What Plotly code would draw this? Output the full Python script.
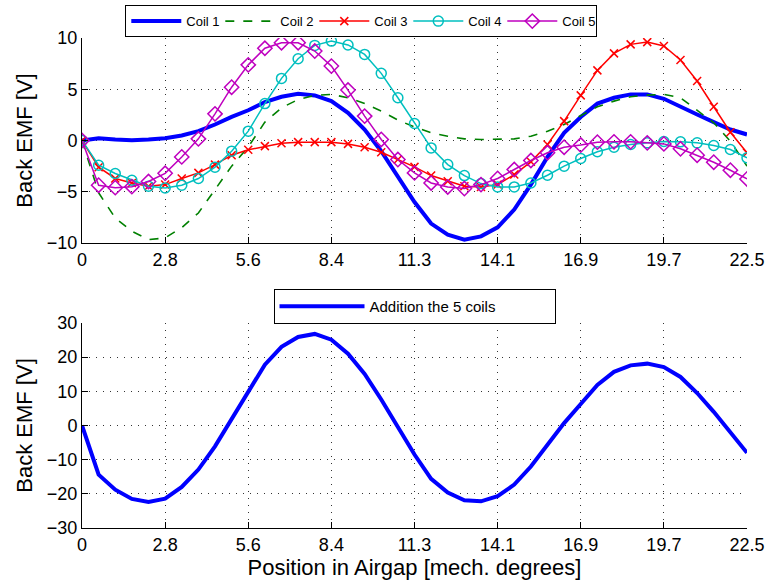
import plotly.graph_objects as go
from plotly.subplots import make_subplots

# ---- data ----
position = [0, 0.5625, 1.125, 1.6875, 2.25, 2.8125, 3.375, 3.9375, 4.5, 5.0625,
            5.625, 6.1875, 6.75, 7.3125, 7.875, 8.4375, 9.0, 9.5625, 10.125, 10.6875,
            11.25, 11.8125, 12.375, 12.9375, 13.5, 14.0625, 14.625, 15.1875, 15.75, 16.3125,
            16.875, 17.4375, 18.0, 18.5625, 19.125, 19.6875, 20.25, 20.8125, 21.375, 21.9375,
            22.5]

coil1 = [0, 0.23, 0.10, 0.03, 0.10, 0.23, 0.49, 0.91, 1.56, 2.31,
         2.95, 3.75, 4.27, 4.56, 4.40, 3.84, 2.70, 1.07, -1.04, -3.49,
         -6.0, -8.10, -9.19, -9.67, -9.35, -8.47, -6.74, -4.30, -1.60, 0.75,
         2.30, 3.60, 4.17, 4.50, 4.50, 4.07, 3.35, 2.54, 1.79, 1.07,
         0.59]
coil2 = [0, -5.1, -7.56, -8.86, -9.67, -9.5, -8.5, -7.07, -4.79, -2.5,
         -0.63, 1.79, 3.19, 4.0, 4.4, 4.5, 4.17, 3.62, 2.87, 1.99,
         1.32, 0.75, 0.42, 0.16, 0.10, 0.10, 0.16, 0.42, 0.91, 1.56,
         2.46, 3.29, 3.84, 4.27, 4.43, 4.5, 4.17, 2.96, 1.73, -0.07,
         -2.5]
coil3 = [0, -2.6, -3.7, -4.14, -4.46, -4.3, -3.71, -3.16, -2.35, -1.43,
         -0.91, -0.55, -0.26, -0.16, -0.16, -0.16, -0.33, -0.65, -1.14, -1.86,
         -2.57, -3.42, -3.97, -4.46, -4.53, -4.3, -3.32, -2.08, -0.39, 1.89,
         4.4, 6.84, 8.5, 9.38, 9.6, 9.22, 7.85, 5.8, 3.29, 0.81,
         -1.2]
coil4 = [0, -2.41, -3.22, -3.88, -4.46, -4.63, -4.36, -3.71, -2.6, -1.04,
         0.91, 3.6, 6.06, 7.98, 9.28, 9.7, 9.32, 8.4, 6.55, 4.17,
         1.66, -0.72, -2.35, -3.42, -4.2, -4.53, -4.53, -4.14, -3.39, -2.5,
         -1.76, -1.1, -0.65, -0.39, -0.23, -0.1, -0.13, -0.23, -0.49, -0.88,
         -1.69]
coil5 = [0, -4.36, -4.6, -4.5, -4.0, -3.2, -1.6, 0.16, 2.6, 5.2,
         7.38, 9.0, 9.54, 9.54, 8.73, 7.26, 4.92, 2.38, 0.1, -1.86,
         -3.16, -4.14, -4.53, -4.69, -4.3, -3.7, -2.83, -1.95, -1.2, -0.65,
         -0.44, -0.16, -0.13, -0.13, -0.23, -0.33, -0.81, -1.43, -2.12, -2.9,
         -3.75]
total = [0, -14.4, -18.8, -21.5, -22.4, -21.4, -18.0, -12.9, -6.1, 1.7,
         9.8, 17.8, 23.0, 25.9, 26.8, 25.1, 21.0, 15.1, 7.6, -0.7,
         -8.5, -15.6, -19.6, -21.9, -22.2, -20.7, -17.3, -12.0, -5.6, 0.7,
         6.3, 11.9, 15.7, 17.6, 18.1, 17.1, 14.2, 9.5, 4.0, -2.2,
         -8.0]

x_tickvals = [0, 2.8125, 5.625, 8.4375, 11.25, 14.0625, 16.875, 19.6875, 22.5]
x_ticktext = ["0", "2.8", "5.6", "8.4", "11.3", "14.1", "16.9", "19.7", "22.5"]
y_top_ticks = [-10, -5, 0, 5, 10]
y_bot_ticks = [-30, -20, -10, 0, 10, 20, 30]

FONT = "Liberation Sans, Arial, Helvetica, sans-serif"

fig = make_subplots(rows=2, cols=1, vertical_spacing=0.1632)

fig.add_trace(go.Scatter(x=position, y=coil1, mode="lines", name="Coil 1",
                         line=dict(color="#0000ff", width=4), legend="legend"), row=1, col=1)
fig.add_trace(go.Scatter(x=position, y=coil2, mode="lines", name="Coil 2",
                         line=dict(color="#008000", width=1.6, dash="9px,9px"), legend="legend"), row=1, col=1)
fig.add_trace(go.Scatter(x=position, y=coil3, mode="lines+markers", name="Coil 3",
                         line=dict(color="#ff0000", width=1.5),
                         marker=dict(symbol="x-thin-open", size=8, color="#ff0000",
                                     line=dict(color="#ff0000", width=1.5)), legend="legend"), row=1, col=1)
fig.add_trace(go.Scatter(x=position, y=coil4, mode="lines+markers", name="Coil 4",
                         line=dict(color="#00bfbf", width=1.5),
                         marker=dict(symbol="circle-open", size=10, color="#00bfbf",
                                     line=dict(color="#00bfbf", width=1.5)), legend="legend"), row=1, col=1)
fig.add_trace(go.Scatter(x=position, y=coil5, mode="lines+markers", name="Coil 5",
                         line=dict(color="#bf00bf", width=1.5),
                         marker=dict(symbol="diamond-open", size=11, color="#bf00bf",
                                     line=dict(color="#bf00bf", width=1.5)), legend="legend"), row=1, col=1)
fig.add_trace(go.Scatter(x=position, y=total, mode="lines", name="Addition the 5 coils",
                         line=dict(color="#0000ff", width=4), legend="legend2"), row=2, col=1)

axis_common = dict(showline=True, linecolor="black", linewidth=1, mirror=False,
                   ticks="inside", ticklen=6, tickcolor="black",
                   showgrid=True, gridcolor="#333333", gridwidth=1, griddash="1px,6px",
                   zeroline=False, tickfont=dict(family=FONT, size=18, color="black"))

for r in (1, 2):
    fig.update_xaxes(range=[0, 22.5], tickvals=x_tickvals, ticktext=x_ticktext,
                     ticklabelstandoff=0, **axis_common, row=r, col=1)

fig.update_yaxes(range=[-10, 10], tickvals=y_top_ticks, row=1, col=1, **axis_common,
                 title=dict(text="Back EMF [V]", font=dict(family=FONT, size=22, color="black"), standoff=8))
fig.update_yaxes(range=[-30, 30], tickvals=y_bot_ticks, row=2, col=1, **axis_common,
                 title=dict(text="Back EMF [V]", font=dict(family=FONT, size=22, color="black"), standoff=8))
fig.update_xaxes(row=2, col=1,
                 title=dict(text="Position in Airgap [mech. degrees]",
                            font=dict(family=FONT, size=22, color="black"), standoff=4))

fig.update_layout(
    width=768, height=587,
    margin=dict(l=82, r=21, t=38, b=59, autoexpand=False),
    paper_bgcolor="white", plot_bgcolor="white",
    showlegend=True,
    legend=dict(orientation="h", x=0.42, y=1.067, xanchor="center", yanchor="top",
                bgcolor="white", bordercolor="black", borderwidth=1,
                font=dict(family=FONT, size=13, color="black"),
                itemwidth=50, entrywidth=29, entrywidthmode="pixels", tracegroupgap=0),
    legend2=dict(orientation="h", x=0.50, y=0.488, xanchor="center", yanchor="top",
                 bgcolor="white", bordercolor="black", borderwidth=1,
                 font=dict(family=FONT, size=15, color="black"), itemwidth=85,
                 entrywidth=180, entrywidthmode="pixels"),
)

fig.write_html("out.html", config={"displayModeBar": False},
               post_script="document.body.style.margin='0';document.body.style.overflow='hidden';")
